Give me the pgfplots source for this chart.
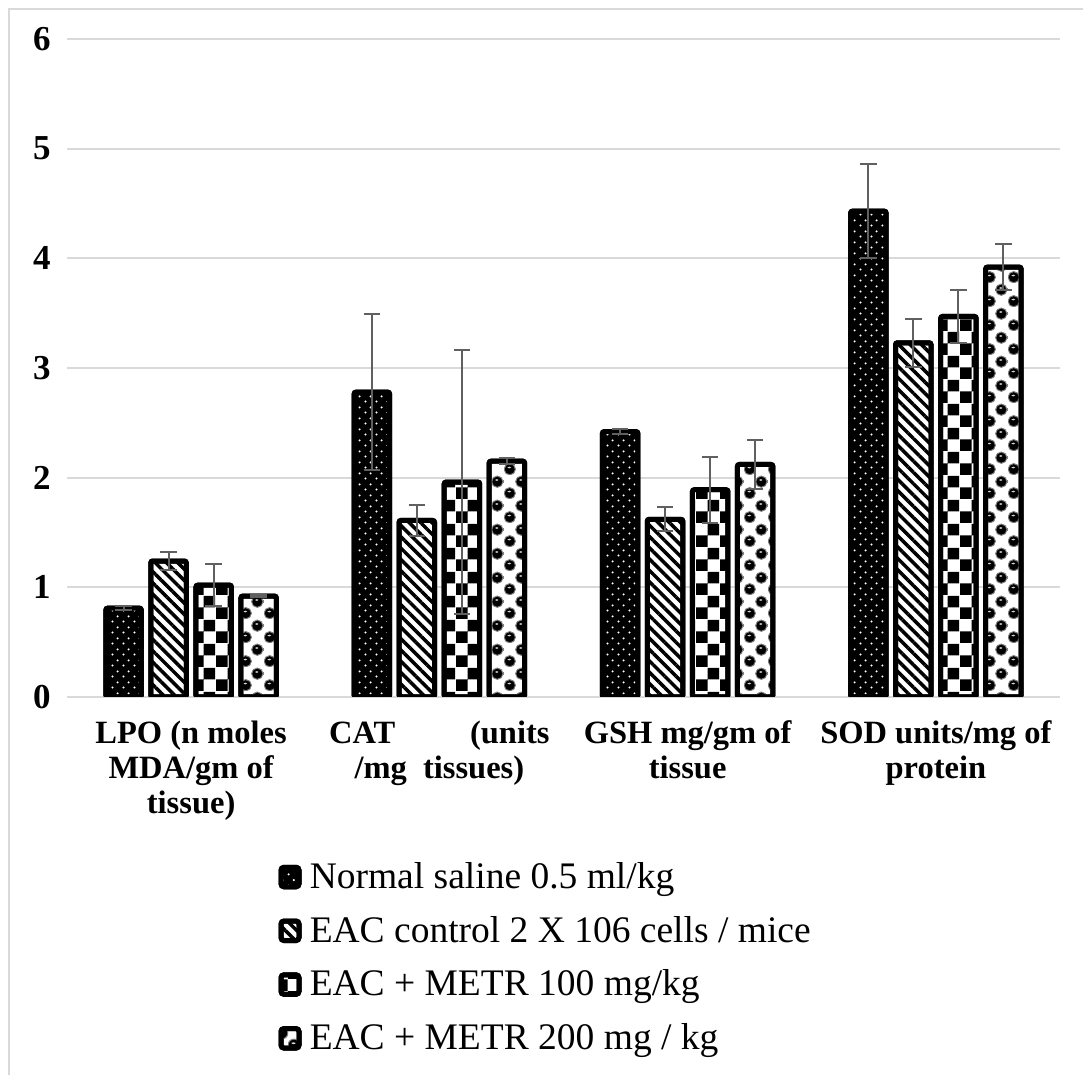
\documentclass[border=0pt]{standalone}
\usepackage{fontspec}
\setmainfont{Liberation Serif}
\usepackage{pgfplots}
\pgfplotsset{compat=1.18}
\usetikzlibrary{patterns,patterns.meta}
\definecolor{gridgray}{HTML}{D9D9D9}
\definecolor{errgray}{HTML}{606060}

\pgfdeclarepatternformonly{wdots}{\pgfpointorigin}{\pgfqpoint{4.4pt}{4.4pt}}{\pgfqpoint{4.4pt}{4.4pt}}{%
  \pgfpathcircle{\pgfqpoint{1.1pt}{1.1pt}}{0.5pt}%
  \pgfpathcircle{\pgfqpoint{3.3pt}{3.3pt}}{0.5pt}%
  \pgfusepath{fill}}
\pgfdeclarepatternformonly{bigchecker}{\pgfpointorigin}{\pgfqpoint{9.6pt}{9.6pt}}{\pgfqpoint{9.6pt}{9.6pt}}{%
  \pgfpathrectangle{\pgfpointorigin}{\pgfqpoint{4.85pt}{4.85pt}}%
  \pgfpathrectangle{\pgfqpoint{4.8pt}{4.8pt}}{\pgfqpoint{4.8pt}{4.8pt}}%
  \pgfusepath{fill}}
\pgfdeclarepatterninherentlycolored{spheres}{\pgfpointorigin}{\pgfqpoint{9.6pt}{9.6pt}}{\pgfqpoint{9.6pt}{9.6pt}}{%
  \pgfsetstrokecolor{gray}\pgfsetfillcolor{black}\pgfsetlinewidth{0.4pt}%
  \pgfpathcircle{\pgfqpoint{2.4pt}{2.4pt}}{2.35pt}%
  \pgfpathcircle{\pgfqpoint{7.2pt}{7.2pt}}{2.35pt}%
  \pgfusepath{fill,stroke}%
  \pgfsetfillcolor{white!85!black}%
  \pgfpathellipse{\pgfqpoint{2.2pt}{3.1pt}}{\pgfqpoint{0.8pt}{0pt}}{\pgfqpoint{0pt}{0.35pt}}%
  \pgfpathellipse{\pgfqpoint{7.0pt}{7.9pt}}{\pgfqpoint{0.8pt}{0pt}}{\pgfqpoint{0pt}{0.35pt}}%
  \pgfusepath{fill}}

\pgfplotsset{
  errstyle/.style={error bars/.cd, y dir=both, y explicit,
    error bar style={color=errgray, line width=0.8pt, fill=none},
    error mark options={rotate=90, mark size=3.3pt, color=errgray, line width=0.8pt}},
  mybar/.style={draw=black, line width=2pt, rounded corners=0.8pt},
  lg/.style={legend image code/.code={%
    \draw[##1, line width=2pt, rounded corners=1.2pt] (0.5pt,-3.8pt) rectangle (7.7pt,4.0pt);
    \path (9pt,0pt);}},
}

\begin{document}
\begin{tikzpicture}
\useasboundingbox (0,0) rectangle (433.2pt,430pt);
\draw[gridgray, line width=0.8pt] (3.6pt,0) -- (3.6pt,426.4pt) -- (433.2pt,426.4pt);
\begin{axis}[
  at={(26.8pt,151.2pt)}, anchor=south west,
  scale only axis, width=397.2pt, height=263.2pt,
  xmin=-0.5, xmax=3.5, ymin=0, ymax=6,
  ytick={0,1,2,3,4,5,6}, xtick={0,1,2,3},
  xticklabels={{LPO (n moles\\MDA/gm of\\tissue)}, {CAT\hspace{2.3em}(units\\/mg~~tissues)}, {GSH mg/gm of\\tissue}, {SOD units/mg of\\protein}},
  xticklabel style={align=center, font=\bfseries\fontsize{13}{14}\selectfont, yshift=-6pt},
  yticklabel style={font=\bfseries\fontsize{14}{14}\selectfont, xshift=-3pt},
  /pgf/number format/assume math mode=true,
  major tick length=0pt,
  ymajorgrids, grid style={gridgray, line width=0.7pt},
  axis lines*=left, axis line style={draw=none},
  ybar, bar width=0.143,
  legend style={at={(0.2125,-0.243)}, anchor=north west, draw=none, fill=none,
    font=\fontsize{15}{18}\selectfont, row sep=5.6pt, inner sep=0pt},
  legend cell align=left,
]
\addplot[mybar, preaction={fill=black}, pattern=wdots, pattern color=white, bar shift=-0.272, lg, errstyle]
  coordinates {(0,0.81) +- (0,0.02) (1,2.78) +- (0,0.71) (2,2.42) +- (0,0.02) (3,4.43) +- (0,0.43)};
\addlegendentry{Normal saline 0.5 ml/kg}
\addplot[mybar, preaction={fill=white}, pattern={Lines[angle=-45,distance=3.2pt,line width=1.4pt]}, pattern color=black, bar shift=-0.091, lg, errstyle]
  coordinates {(0,1.24) +- (0,0.08) (1,1.61) +- (0,0.14) (2,1.62) +- (0,0.11) (3,3.23) +- (0,0.22)};
\addlegendentry{EAC control 2 X 106 cells / mice}
\addplot[mybar, preaction={fill=white}, pattern=bigchecker, pattern color=black, bar shift=0.091, lg, errstyle]
  coordinates {(0,1.02) +- (0,0.19) (1,1.96) +- (0,1.20) (2,1.89) +- (0,0.30) (3,3.47) +- (0,0.24)};
\addlegendentry{EAC + METR 100 mg/kg}
\addplot[mybar, preaction={fill=white}, pattern=spheres, bar shift=0.272, lg, errstyle]
  coordinates {(0,0.92) +- (0,0.01) (1,2.15) +- (0,0.03) (2,2.12) +- (0,0.22) (3,3.92) +- (0,0.21)};
\addlegendentry{EAC + METR 200 mg / kg}
\end{axis}
\end{tikzpicture}
\end{document}
